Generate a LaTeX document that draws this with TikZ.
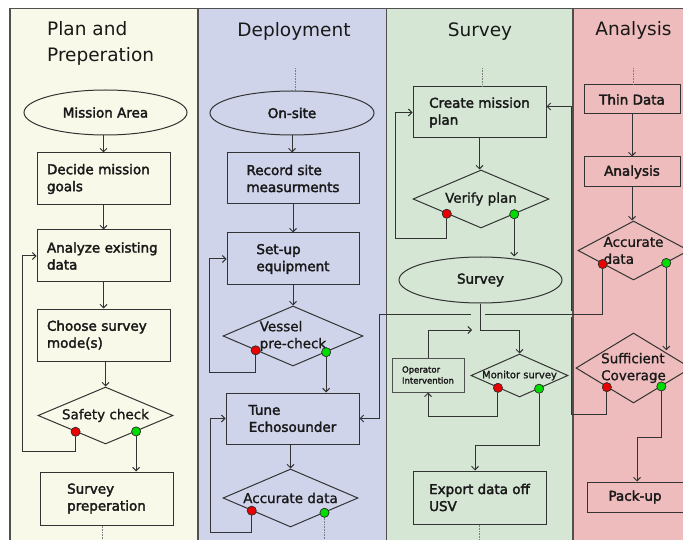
\documentclass[tikz,border=0pt]{standalone}
\usepackage{fontspec}
\setmainfont{DejaVu Sans}
\newfontfamily\nfb{DejaVu Sans}[FakeBold=2.4]
\newfontfamily\nfm{DejaVu Sans}[FakeBold=1.2]
\usetikzlibrary{shapes.geometric,arrows.meta,calc}
\definecolor{laneA}{RGB}{249,249,233}
\definecolor{laneB}{RGB}{208,212,235}
\definecolor{laneC}{RGB}{213,230,213}
\definecolor{laneD}{RGB}{238,188,188}
\definecolor{lc}{RGB}{51,51,51}
\definecolor{fc}{RGB}{80,80,80}
\definecolor{tc}{RGB}{25,25,25}
\definecolor{redd}{RGB}{235,0,0}
\definecolor{grnd}{RGB}{0,220,0}
\tikzset{
  frame/.style={draw=fc, line width=1.4pt},
  ln/.style={draw=lc, line width=1pt},
  arr/.style={ln, -{Straight Barb[length=3.5pt,width=7pt]}},
  dots/.style={draw=gray, line width=0.8pt, dash pattern=on 0.8pt off 0.8pt},
  title/.style={font=\fontsize{18.5}{26}\selectfont, text=tc, align=left, inner sep=0pt},
  box/.style={draw=lc, line width=1pt, rectangle, align=left, text=tc, inner sep=0pt,
    font=\nfb\fontsize{13.5}{17}\selectfont},
  ell/.style={draw=lc, line width=1pt, ellipse, inner sep=0pt, text=tc,
    font=\nfb\fontsize{13.5}{17}\selectfont},
  dia/.style={draw=lc, line width=1pt, diamond, inner sep=0pt},
  dtxt/.style={font=\nfm\fontsize{13.5}{17}\selectfont, align=left, text=tc, inner sep=0pt},
  rdot/.style={circle, draw=lc, fill=redd, minimum size=9pt, inner sep=0pt, line width=0.6pt},
  gdot/.style={circle, draw=lc, fill=grnd, minimum size=9pt, inner sep=0pt, line width=0.6pt}
}
\begin{document}
\begin{tikzpicture}[x=1pt, y=-1pt]
\useasboundingbox (0,0) rectangle (683,540);
\clip (0,0) rectangle (683,540);
% lanes
\fill[white] (0,0) rectangle (683,540);
\fill[laneA] (10,8.5) rectangle (198,560);
\fill[laneB] (198,8.5) rectangle (386.5,560);
\fill[laneC] (386.5,8.5) rectangle (573,560);
\fill[laneD] (573,8.5) rectangle (700,560);
\draw[frame] (10,560) -- (10,8.5) -- (700,8.5);
\draw[frame] (198,8.5) -- (198,560);
\draw[frame] (386.5,8.5) -- (386.5,560);
\draw[frame] (573,8.5) -- (573,560);
% titles
\node[title, anchor=base west] (t1) at (47,62) {Plan and\\Preperation};
\node[title, anchor=base] (t2) at (294,37) {Deployment};
\node[title, anchor=base] (t3) at (480,37) {Survey};
\node[title, anchor=base] (t4) at (633.5,36) {Analysis};

% lane 1
\node[ell, minimum width=163pt, minimum height=45pt] (ma) at (105.5,112.5) {Mission Area};
\node[box, minimum width=133pt, minimum height=52pt, text width=113pt] (dec) at (103.5,179) {Decide mission\\goals};
\node[box, minimum width=133pt, minimum height=52pt, text width=113pt] (ana) at (103.5,256) {Analyze existing\\data};
\node[box, minimum width=133pt, minimum height=52pt, text width=113pt] (cho) at (103.5,335) {Choose survey\\mode(s)};
\node[dia, minimum width=135pt, minimum height=57pt, label={[dtxt]center:Safety check}] (sc) at (105.5,415.5) {};
\node[box, minimum width=133pt, minimum height=53pt] (prep) at (106.5,498.5) {Survey\\preperation};

% lane 2
\node[ell, minimum width=164pt, minimum height=44pt] (os) at (292,113) {On-site};
\node[box, minimum width=132pt, minimum height=51pt] (rec) at (293,178.5) {Record site\\measurments};
\node[box, minimum width=132pt, minimum height=52pt] (set) at (293,259) {Set-up\\equipment};
\node[dia, minimum width=140pt, minimum height=60pt, label={[dtxt]center:{Vessel\\pre-check}}] (vp) at (293,336) {};
\node[box, minimum width=133pt, minimum height=51pt] (tune) at (292.5,418.5) {Tune\\Echosounder};
\node[dia, minimum width=135pt, minimum height=58pt, label={[dtxt]center:Accurate data}] (ad2) at (290.5,498) {};

% lane 3
\node[box, minimum width=133pt, minimum height=51pt] (cmp) at (479.5,112.5) {Create mission\\plan};
\node[dia, minimum width=136pt, minimum height=58pt, label={[dtxt]center:Verify plan}] (vp2) at (481,199) {};
\node[ell, minimum width=163pt, minimum height=46pt] (sv) at (480.5,280) {Survey};
\node[dia, minimum width=97pt, minimum height=43pt, label={[dtxt, font=\nfm\fontsize{10}{12}\selectfont]center:Monitor survey}] (ms) at (519.5,375.5) {};
\node[box, draw=fc, minimum width=72pt, minimum height=34pt, font=\nfb\fontsize{8.5}{11}\selectfont] (op) at (428,375) {Operator\\Intervention};
\node[box, minimum width=133pt, minimum height=53pt] (ex) at (479.5,497.5) {Export data off\\USV};

% lane 4
\node[box, minimum width=96pt, minimum height=29pt] (thin) at (632,99.5) {Thin Data};
\node[box, minimum width=96pt, minimum height=30pt] (an) at (632,172) {Analysis};
\node[dia, minimum width=111pt, minimum height=59pt, label={[dtxt]center:{Accurate\\data}}] (ad4) at (633.5,250.5) {};
\node[dia, minimum width=115pt, minimum height=70pt, label={[dtxt]center:{Sufficient\\Coverage}}] (suf) at (633.5,368) {};
\node[box, minimum width=96pt, minimum height=30pt] (pk) at (635,497) {Pack-up};

% decision dots
\node[rdot] (r1) at ($(sc.west)!0.56!(sc.south)$) {};
\node[gdot] (g1) at ($(sc.south)!0.45!(sc.east)$) {};
\node[rdot] (r2) at ($(vp.west)!0.47!(vp.south)$) {};
\node[gdot] (g2) at ($(vp.south)!0.47!(vp.east)$) {};
\node[rdot] (r3) at ($(ad2.west)!0.43!(ad2.south)$) {};
\node[gdot] (g3) at ($(ad2.south)!0.5!(ad2.east)$) {};
\node[rdot] (r4) at ($(vp2.west)!0.5!(vp2.south)$) {};
\node[gdot] (g4) at ($(vp2.south)!0.485!(vp2.east)$) {};
\node[rdot] (r5) at ($(ms.west)!0.56!(ms.south)$) {};
\node[gdot] (g5) at ($(ms.south)!0.4!(ms.east)$) {};
\node[rdot] (r6) at ($(ad4.west)!0.45!(ad4.south)$) {};
\node[gdot] (g6) at ($(ad4.south)!0.585!(ad4.east)$) {};
\node[rdot] (r7) at ($(suf.west)!0.54!(suf.south)$) {};
\node[gdot] (g7) at ($(suf.south)!0.48!(suf.east)$) {};

% corner coordinates
\coordinate (l1) at (22,451);
\coordinate (l2) at (209,372);
\coordinate (l3) at (210,532);
\coordinate (l4) at (395,239);
\coordinate (l5) at (0,416);
\coordinate (l6) at (475,445);
\coordinate (l7) at (637,437);
\coordinate (m1) at (571,414);
\coordinate (m2) at (571,317);
\coordinate (m3) at (571,311);
\coordinate (k1) at (485,314);
\coordinate (k2) at (471,314);
\coordinate (j1) at (379,314);
\coordinate (o1) at (472,330);
\coordinate (n1) at (0,330);
\coordinate (e1) at (102,545);
\coordinate (e2) at (324,545);
\coordinate (e3) at (479,545);
\coordinate (s2) at (295,68);
\coordinate (s3) at (482,68);
\coordinate (s4) at (633,68);

% lane 1
\draw[arr] (ma.south -| dec.north) -- (dec.north);
\draw[arr] (dec.south) -- (ana.north);
\draw[arr] (ana.south) -- (cho.north);
\draw[arr] (cho.south -| sc.north) -- (sc.north);
\draw[arr] (r1) |- (l1) |- (ana.west);
\draw[arr] (g1) -- (g1 |- prep.north);
\draw[dots] (prep.south -| e1) -- (e1);
% lane 2
\draw[dots] (s2) -- (s2 |- os.north);
\draw[arr] (os.south) -- (os.south |- rec.north);
\draw[arr] (rec.south) -- (set.north);
\draw[arr] (set.south) -- (set.south |- vp.north);
\draw[arr] (r2) |- (l2) |- (set.west);
\draw[arr] (g2) -- (g2 |- tune.north);
\draw[arr] (tune.south -| ad2.north) -- (ad2.north);
\draw[arr] (r3) |- (l3) |- (tune.west);
\draw[dots] (g3) -- (g3 |- e2);
% lane 3
\draw[dots] (s3) -- (s3 |- cmp.north);
\draw[arr] (cmp.south) -- (cmp.south |- vp2.north);
\draw[arr] (r4) |- (l4) |- (cmp.west);
\draw[arr] (g4) -- (g4 |- sv.north);
\draw[arr] (sv.south) |- (ms.north |- n1) -- (ms.north);
\draw[arr] (r5) |- (op.south |- l5) -- (op.south);
\draw[arr] (op.north) |- (o1);
\draw[arr] (g5) |- (l6) -- (l6 |- ex.north);
\draw[dots] (ex.south -| e3) -- (e3);
% lane 4
\draw[dots] (s4) -- (s4 |- thin.north);
\draw[arr] (thin.south) -- (an.north);
\draw[arr] (an.south) -- (an.south |- ad4.north);
\draw[arr] (g6) -- (g6 |- suf.north east);
\draw[arr] (g7) |- (l7) -- (l7 |- pk.north);
\draw[ln] (r7) |- (m1) -- (m2);
\draw[arr] (m3) |- ($(cmp.east)+(0,-6)$);
\draw[ln] (r6) |- (k1);
\draw[arr] (k2) -| (j1 |- tune.east) -- (tune.east);
% redraw dots on top
\foreach \d/\s in {r1/rdot,g1/gdot,r2/rdot,g2/gdot,r3/rdot,g3/gdot,r4/rdot,g4/gdot,r5/rdot,g5/gdot,r6/rdot,g6/gdot,r7/rdot,g7/gdot}
  \node[\s] at (\d) {};
\end{tikzpicture}
\end{document}
